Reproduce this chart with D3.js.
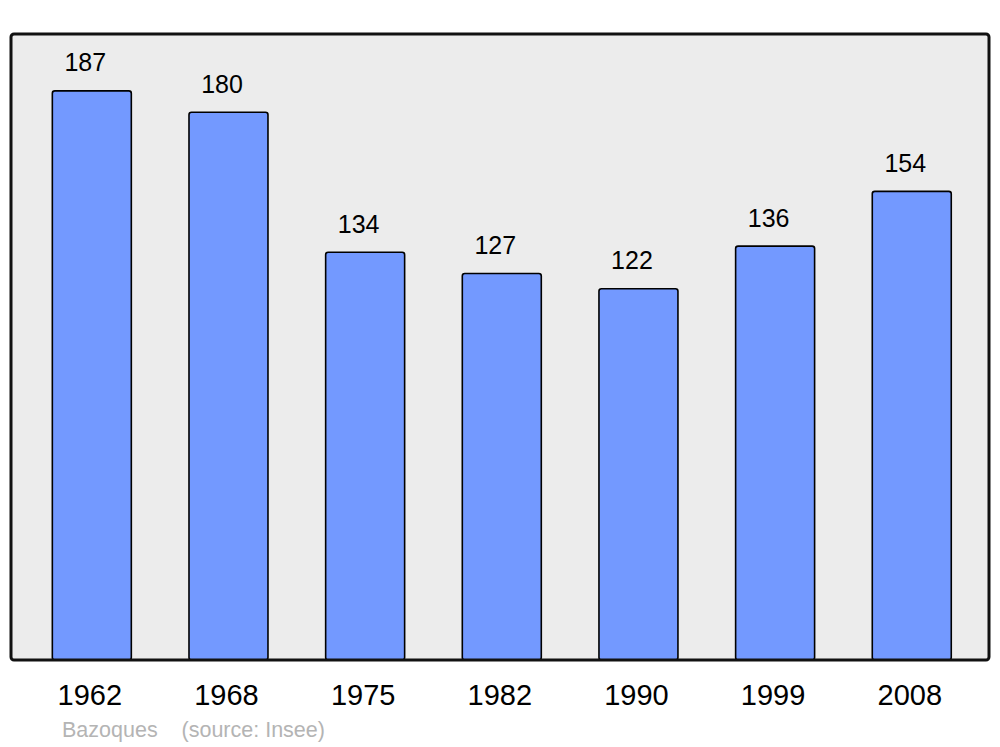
<!DOCTYPE html>
<html><head><meta charset="utf-8">
<script src="https://cdn.jsdelivr.net/npm/d3@7"></script>
<style>html,body{margin:0;padding:0;background:#fff;}svg{display:block;}</style>
</head><body>
<svg id="c" width="1000" height="747"></svg>
<script>
const years = ["1962","1968","1975","1982","1990","1999","2008"];
const population = [187,180,134,127,122,136,154];
const placeName = "Bazoques";
const sourceText = "(source: Insee)";

const svg = d3.select("#c");
const frame = {left:11, top:34, right:989, bottom:660};

const x = d3.scaleBand().domain(years).range([23.5, 980.1]).paddingInner(0.422).paddingOuter(0.211);
const y = d3.scaleLinear().domain([0, d3.max(population)*1.1]).range([frame.bottom, frame.top]);

svg.append("rect")
  .attr("x", frame.left).attr("y", frame.top)
  .attr("width", frame.right-frame.left).attr("height", frame.bottom-frame.top)
  .attr("rx", 3).attr("fill", "#ececec");

const data = years.map((yr,i)=>({yr, v: population[i]}));

svg.selectAll("rect.bar").data(data).enter().append("rect")
  .attr("class","bar")
  .attr("x", d=>x(d.yr)).attr("y", d=>y(d.v))
  .attr("width", x.bandwidth()).attr("height", d=>y(0)-y(d.v))
  .attr("rx", 2.5)
  .attr("fill", "#7399ff").attr("stroke", "#000").attr("stroke-width", 1.6);

svg.append("rect")
  .attr("x", frame.left).attr("y", frame.top)
  .attr("width", frame.right-frame.left).attr("height", frame.bottom-frame.top)
  .attr("rx", 3).attr("fill", "none").attr("stroke", "#111").attr("stroke-width", 3);

svg.selectAll("text.val").data(data).enter().append("text")
  .attr("class","val")
  .attr("x", d=>x(d.yr)+x.bandwidth()/2-6.5)
  .attr("y", d=>y(d.v)-19.5)
  .attr("text-anchor","middle")
  .attr("font-family","'Liberation Sans', Arial, sans-serif")
  .attr("font-size", 25)
  .attr("fill","#000")
  .text(d=>d.v);

const xAxis = d3.axisBottom(x).tickSize(0).tickPadding(0);
const ax = svg.append("g").attr("transform", `translate(-2,${frame.bottom})`).call(xAxis);
ax.select(".domain").remove();
ax.selectAll("text")
  .attr("y", 45).attr("dy", 0)
  .attr("font-family","'Liberation Sans', Arial, sans-serif")
  .attr("font-size", 29)
  .attr("fill","#000");

svg.append("text")
  .attr("x", 62).attr("y", 737)
  .attr("font-family","'Liberation Sans', Arial, sans-serif")
  .attr("font-size", 21.5)
  .attr("fill","#b4b4b4")
  .attr("xml:space","preserve")
  .text(placeName + "    " + sourceText);
</script>
</body></html>
